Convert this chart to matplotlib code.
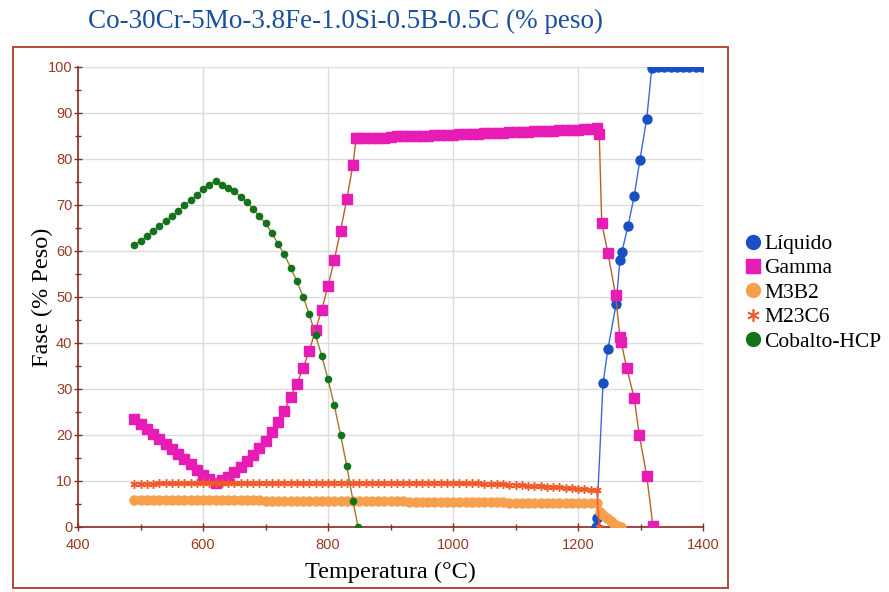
import matplotlib
matplotlib.use("Agg")
import matplotlib.pyplot as plt
from matplotlib.lines import Line2D
from matplotlib.patches import Rectangle
from matplotlib.ticker import MultipleLocator

# ---------------- data ----------------
title = "Co-30Cr-5Mo-3.8Fe-1.0Si-0.5B-0.5C (% peso)"
xlabel = "Temperatura (°C)"
ylabel = "Fase (% Peso)"
series_names = ["Líquido", "Gamma", "M3B2", "M23C6", "Cobalto-HCP"]

liq_T = [1229, 1230, 1240, 1248, 1261, 1267, 1270, 1280, 1290, 1299, 1310, 1318,
         1328, 1338, 1348, 1358, 1368, 1378, 1388, 1398]
liq_v = [0.0, 1.9, 31.2, 38.8, 48.5, 58.0, 59.7, 65.4, 72.0, 79.8, 88.8, 99.7,
         100, 100, 100, 100, 100, 100, 100, 100]

gam_T = [490, 500, 510, 520, 530, 540, 550, 560, 570, 580, 590, 600, 610, 620,
         630, 640, 650, 660, 670, 680, 690, 700, 710, 720, 730, 740, 750, 760,
         770, 780, 790, 800, 810, 820, 830, 840, 845,
         850, 860, 870, 880, 890, 900, 910, 920, 930, 940, 950, 960, 970, 980,
         990, 1000, 1010, 1020, 1030, 1040, 1050, 1060, 1070, 1080, 1090, 1100,
         1110, 1120, 1130, 1140, 1150, 1160, 1170, 1180, 1190, 1200, 1210, 1220,
         1230, 1234, 1238, 1248, 1260, 1267, 1269, 1278, 1290, 1298, 1310, 1320]
gam_v = [23.4, 22.4, 21.3, 20.2, 19.1, 18.0, 16.9, 15.8, 14.7, 13.6, 12.5, 11.4, 10.4, 9.5,
         10.2, 10.9, 12.0, 13.1, 14.3, 15.7, 17.1, 18.6, 20.7, 22.9, 25.2, 28.3, 31.1, 34.5,
         38.3, 42.8, 47.2, 52.4, 58.0, 64.4, 71.2, 78.8, 84.5,
         84.5, 84.5, 84.5, 84.6, 84.6, 84.8, 84.9, 84.9, 85.0, 85.0, 85.1, 85.1, 85.2, 85.2,
         85.3, 85.3, 85.4, 85.4, 85.5, 85.5, 85.6, 85.6, 85.7, 85.7, 85.8, 85.8,
         85.9, 85.9, 86.0, 86.0, 86.1, 86.1, 86.2, 86.3, 86.3, 86.4, 86.5, 86.6,
         86.7, 85.5, 66.0, 59.5, 50.5, 41.4, 40.3, 34.5, 28.0, 20.0, 11.1, 0.2]

m3b2_T = [490, 500, 510, 520, 530, 540, 550, 560, 570, 580, 590, 600, 610, 620,
          630, 640, 650, 660, 670, 680, 690, 700, 710, 720, 730, 740, 750, 760,
          770, 780, 790, 800, 810, 820, 830, 840, 850, 860, 870, 880, 890, 900,
          910, 920, 930, 940, 950, 960, 970, 980, 990, 1000, 1010, 1020, 1030,
          1040, 1050, 1060, 1070, 1080, 1090, 1100, 1110, 1120, 1130, 1140, 1150,
          1160, 1170, 1180, 1190, 1200, 1210, 1220, 1230,
          1235, 1240, 1246, 1252, 1258, 1264, 1268]
m3b2_v = [5.8, 5.8, 5.8, 5.8, 5.8, 5.8, 5.8, 5.8, 5.8, 5.8, 5.8, 5.8, 5.8, 5.8,
          5.8, 5.8, 5.8, 5.8, 5.8, 5.8, 5.8, 5.7, 5.7, 5.7, 5.7, 5.7, 5.7, 5.7,
          5.7, 5.7, 5.7, 5.7, 5.7, 5.7, 5.7, 5.7, 5.7, 5.6, 5.6, 5.6, 5.6, 5.6,
          5.6, 5.6, 5.5, 5.5, 5.5, 5.5, 5.5, 5.5, 5.5, 5.5, 5.5, 5.4, 5.4,
          5.4, 5.4, 5.4, 5.4, 5.4, 5.3, 5.3, 5.3, 5.3, 5.3, 5.3, 5.3,
          5.3, 5.3, 5.3, 5.3, 5.3, 5.3, 5.2, 5.2,
          3.2, 2.6, 1.9, 1.3, 0.7, 0.2, 0.0]

m23_T = [490, 500, 510, 520, 530, 540, 550, 560, 570, 580, 590, 600, 610, 620,
         630, 640, 650, 660, 670, 680, 690, 700, 710, 720, 730, 740, 750, 760,
         770, 780, 790, 800, 810, 820, 830, 840, 850, 860, 870, 880, 890, 900,
         910, 920, 930, 940, 950, 960, 970, 980, 990, 1000, 1010, 1020, 1030,
         1040, 1050, 1060, 1070, 1080, 1090, 1100, 1110, 1120, 1130, 1140, 1150,
         1160, 1170, 1180, 1190, 1200, 1210, 1220, 1230, 1234]
m23_v = [9.4, 9.4, 9.4, 9.4, 9.5, 9.5, 9.5, 9.5, 9.5, 9.5, 9.5, 9.5, 9.5, 9.5,
         9.5, 9.5, 9.5, 9.5, 9.6, 9.6, 9.6, 9.6, 9.6, 9.6, 9.6, 9.6, 9.6, 9.6,
         9.6, 9.6, 9.6, 9.6, 9.6, 9.6, 9.6, 9.6, 9.6, 9.6, 9.6, 9.6, 9.6, 9.6,
         9.6, 9.6, 9.6, 9.6, 9.6, 9.6, 9.6, 9.6, 9.6, 9.6, 9.5, 9.5, 9.5,
         9.5, 9.4, 9.4, 9.3, 9.3, 9.2, 9.2, 9.1, 9.0, 8.9, 8.9, 8.8,
         8.7, 8.6, 8.5, 8.4, 8.3, 8.2, 8.1, 8.0, 0.0]

hcp_T = [490, 500, 510, 520, 530, 540, 550, 560, 570, 580, 590, 600, 610, 620,
         630, 640, 650, 660, 670, 680, 690, 700, 710, 720, 730, 740, 750, 760,
         770, 780, 790, 800, 810, 820, 830, 840, 848]
hcp_v = [61.3, 62.2, 63.2, 64.3, 65.4, 66.5, 67.6, 68.7, 69.9, 71.0, 72.2, 73.4, 74.4, 75.3,
         74.3, 73.8, 73.0, 71.8, 70.6, 69.1, 67.6, 66.0, 64.0, 61.5, 59.3, 56.4, 53.5, 50.1,
         46.3, 41.7, 37.2, 32.1, 26.5, 20.1, 13.3, 5.7, 0.0]

x_major = [400, 600, 800, 1000, 1200, 1400]
y_major = [0, 10, 20, 30, 40, 50, 60, 70, 80, 90, 100]

# ---------------- styles ----------------
c_liq = "#1a4fc4"
c_gam = "#e61cb4"
c_m3b2 = "#f6a04e"
c_m23 = "#f05a2a"
c_hcp = "#13731c"
axis_col = "#8c2a1e"
tick_col = "#9a3a22"
asterisk = (6, 2, 0)

fig = plt.figure(figsize=(8.89, 5.92), dpi=100)
ax = fig.add_axes([78 / 889, 1 - 527 / 592, (703 - 78) / 889, (527 - 67) / 592])

ax.plot(liq_T, liq_v, color="#3a6ad8", lw=1.0, marker="o", ms=6.5,
        mfc=c_liq, mec=c_liq, zorder=3)
ax.plot(gam_T, gam_v, color="#b8602a", lw=1.0, marker="s", ms=6.5,
        mfc=c_gam, mec=c_gam, zorder=4)
ax.plot(m3b2_T, m3b2_v, color="#e89040", lw=1.0, marker="o", ms=6.5,
        mfc=c_m3b2, mec=c_m3b2, zorder=5)
ax.plot(m23_T, m23_v, color=c_m23, lw=1.0, marker=asterisk, ms=6,
        mfc=c_m23, mec=c_m23, mew=1.1, zorder=6)
ax.plot(hcp_T, hcp_v, color="#a07a2a", lw=1.0, marker="o", ms=4.5,
        mfc=c_hcp, mec=c_hcp, zorder=7)

ax.set_xlim(400, 1400)
ax.set_ylim(0, 100)
ax.set_xticks(x_major)
ax.set_yticks(y_major)
ax.xaxis.set_minor_locator(MultipleLocator(100))
ax.yaxis.set_minor_locator(MultipleLocator(5))
ax.grid(True, which="major", color="#dcdcdc", lw=1.0, zorder=0)
ax.set_axisbelow(True)
for s in ["top", "right"]:
    ax.spines[s].set_visible(False)
for s in ["left", "bottom"]:
    ax.spines[s].set_color(axis_col)
    ax.spines[s].set_linewidth(1.2)
ax.tick_params(which="both", direction="inout", color=axis_col, width=1.0)
ax.tick_params(which="major", length=6, labelsize=10.5, labelcolor=tick_col)
ax.tick_params(axis="x", which="major", pad=5)
ax.tick_params(axis="y", which="major", pad=1)
ax.tick_params(which="minor", length=5)
for lab in ax.get_xticklabels() + ax.get_yticklabels():
    lab.set_fontfamily("Liberation Sans")

serif = "Liberation Serif"
ax.set_xlabel(xlabel, fontfamily=serif, fontsize=17.5, labelpad=7)
ax.set_ylabel(ylabel, fontfamily=serif, fontsize=17.5, labelpad=-4)
fig.text(346 / 889, 1 - 21 / 592, title, ha="center", va="center",
         fontfamily=serif, fontsize=19.5, color="#1b4f9c")

fig.patches.append(Rectangle((13 / 889, 1 - 588 / 592), 715 / 889, (588 - 47) / 592,
                             transform=fig.transFigure, fill=False,
                             edgecolor="#b24a36", lw=1.4))

handles = [
    Line2D([], [], ls="none", marker="o", ms=10, mfc=c_liq, mec=c_liq),
    Line2D([], [], ls="none", marker="s", ms=10, mfc=c_gam, mec=c_gam),
    Line2D([], [], ls="none", marker="o", ms=10, mfc=c_m3b2, mec=c_m3b2),
    Line2D([], [], ls="none", marker=asterisk, ms=9, mfc=c_m23, mec=c_m23, mew=1.2),
    Line2D([], [], ls="none", marker="o", ms=10, mfc=c_hcp, mec=c_hcp),
]
fig.legend(handles, series_names, loc="upper left",
           bbox_to_anchor=(747 / 889, 1 - 234 / 592), frameon=False,
           prop={"family": serif, "size": 15.5}, handlelength=0.6,
           handletextpad=0.2, labelspacing=0.2, borderpad=0, borderaxespad=0)

fig.savefig("out.png", dpi=100)
